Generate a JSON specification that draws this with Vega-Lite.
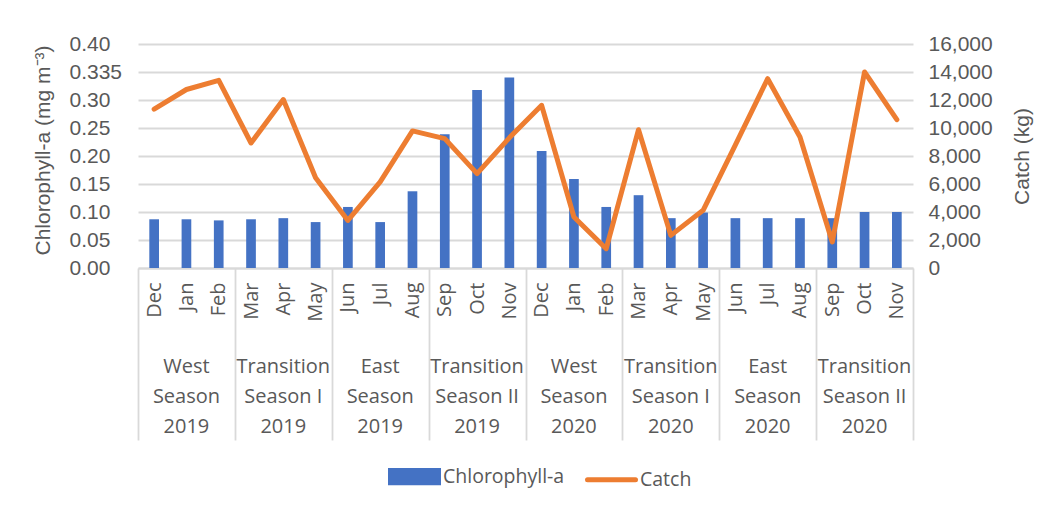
{
  "$schema": "https://vega.github.io/schema/vega-lite/v6.json",
  "width": 775,
  "height": 224,
  "autosize": {"type": "none"},
  "padding": {"left": 138, "top": 44, "right": 141, "bottom": 241},
  "background": "white",
  "config": {
    "view": {"stroke": null},
    "axis": {"labelColor": "#595959", "titleColor": "#595959", "titleFontWeight": "normal"}
  },
  "data": {
    "values": [
      {"key": "West Season 2019|Dec", "chl": 0.087, "catch": 11350},
      {"key": "West Season 2019|Jan", "chl": 0.087, "catch": 12750},
      {"key": "West Season 2019|Feb", "chl": 0.085, "catch": 13400},
      {"key": "Transition Season I 2019|Mar", "chl": 0.087, "catch": 8930},
      {"key": "Transition Season I 2019|Apr", "chl": 0.089, "catch": 12030},
      {"key": "Transition Season I 2019|May", "chl": 0.082, "catch": 6450},
      {"key": "East Season 2019|Jun", "chl": 0.109, "catch": 3400},
      {"key": "East Season 2019|Jul", "chl": 0.082, "catch": 6150},
      {"key": "East Season 2019|Aug", "chl": 0.137, "catch": 9790},
      {"key": "Transition Season II 2019|Sep", "chl": 0.239, "catch": 9240},
      {"key": "Transition Season II 2019|Oct", "chl": 0.318, "catch": 6740},
      {"key": "Transition Season II 2019|Nov", "chl": 0.340, "catch": 9300},
      {"key": "West Season 2020|Dec", "chl": 0.209, "catch": 11620},
      {"key": "West Season 2020|Jan", "chl": 0.159, "catch": 3640},
      {"key": "West Season 2020|Feb", "chl": 0.109, "catch": 1380},
      {"key": "Transition Season I 2020|Mar", "chl": 0.130, "catch": 9880},
      {"key": "Transition Season I 2020|Apr", "chl": 0.089, "catch": 2330},
      {"key": "Transition Season I 2020|May", "chl": 0.099, "catch": 4120},
      {"key": "East Season 2020|Jun", "chl": 0.089, "catch": 8800},
      {"key": "East Season 2020|Jul", "chl": 0.089, "catch": 13520},
      {"key": "East Season 2020|Aug", "chl": 0.089, "catch": 9360},
      {"key": "Transition Season II 2020|Sep", "chl": 0.089, "catch": 1860},
      {"key": "Transition Season II 2020|Oct", "chl": 0.100, "catch": 14000},
      {"key": "Transition Season II 2020|Nov", "chl": 0.100, "catch": 10600}
    ]
  },
  "layer": [
    {
      "mark": {"type": "bar", "width": {"band": 0.3}},
      "encoding": {
        "x": {
          "field": "key",
          "type": "ordinal",
          "sort": null,
          "scale": {"paddingInner": 0, "paddingOuter": 0},
          "axis": {
            "orient": "bottom",
            "title": null,
            "labelExpr": "split(datum.value, '|')[1]",
            "labelAngle": 270,
            "labelAlign": "right",
            "labelBaseline": "middle",
            "labelFont": "Open Sans",
            "labelFontSize": 20,
            "labelPadding": -158,
            "labelOverlap": false,
            "labelBound": false,
            "tickBand": "extent",
            "ticks": true,
            "tickSize": 172,
            "tickColor": "#d9d9d9",
            "tickWidth": 1.8,
            "tickOpacity": {
              "condition": {"test": "datum.extra || indexof(['Feb', 'May', 'Aug', 'Nov'], split(datum.value, '|')[1]) >= 0", "value": 1},
              "value": 0
            },
            "domain": true,
            "domainColor": "#d9d9d9",
            "domainWidth": 1.8,
            "grid": false
          }
        },
        "y": {
          "field": "chl",
          "type": "quantitative",
          "scale": {"domain": [0, 0.4], "nice": false, "zero": true},
          "axis": {
            "orient": "left",
            "title": "Chlorophyll-a (mg m⁻³)",
            "values": [0, 0.05, 0.1, 0.15, 0.2, 0.25, 0.3, 0.35, 0.4],
            "labelExpr": "datum.value === 0.35 ? '0.335' : format(datum.value, '.2f')",
            "labelAlign": "left",
            "labelBaseline": "middle",
            "labelPadding": 69,
            "labelFont": "Liberation Sans",
            "labelFontSize": 21,
            "ticks": false,
            "tickSize": 0,
            "domain": false,
            "grid": true,
            "gridColor": "#d9d9d9",
            "gridWidth": 1.8,
            "titleFont": "Liberation Sans",
            "titleFontSize": 21,
            "titleAngle": 270,
            "titleAlign": "center",
            "titleBaseline": "middle",
            "titleX": -95,
            "titleY": 106
          }
        },
        "color": {
          "datum": "Chlorophyll-a",
          "scale": {"domain": ["Chlorophyll-a", "Catch"], "range": ["#4472C4", "#ED7D31"]},
          "legend": {
            "orient": "none",
            "legendX": 250,
            "legendY": 406,
            "direction": "horizontal",
            "title": null,
            "labelFont": "Open Sans",
            "labelFontSize": 19.5,
            "labelColor": "#595959",
            "labelOffset": 2,
            "columnPadding": 12,
            "symbolSize": 2304,
            "encode": {
              "symbols": {
                "update": {
                  "shape": {"signal": "datum.value === 'Catch' ? 'stroke' : 'M-1,-0.26H1V0.26H-1Z'"},
                  "fill": {"signal": "datum.value === 'Catch' ? 'transparent' : '#4472C4'"},
                  "stroke": {"signal": "datum.value === 'Catch' ? '#ED7D31' : 'transparent'"},
                  "strokeWidth": {"value": 5},
                  "strokeCap": {"value": "round"},
                  "opacity": {"value": 1}
                }
              }
            }
          }
        }
      }
    },
    {
      "mark": {"type": "line", "strokeWidth": 5, "strokeJoin": "round", "strokeCap": "round"},
      "encoding": {
        "x": {
          "field": "key",
          "type": "ordinal",
          "sort": null,
          "axis": {
            "orient": "bottom",
            "title": null,
            "values": [
              "West Season 2019|Jan",
              "Transition Season I 2019|Apr",
              "East Season 2019|Jul",
              "Transition Season II 2019|Oct",
              "West Season 2020|Jan",
              "Transition Season I 2020|Apr",
              "East Season 2020|Jul",
              "Transition Season II 2020|Oct"
            ],
            "labelExpr": "[split(split(datum.value, '|')[0], ' ')[0], join(slice(split(split(datum.value, '|')[0], ' '), 1, -1), ' '), peek(split(split(datum.value, '|')[0], ' '))]",
            "labelAngle": 0,
            "labelAlign": "center",
            "labelBaseline": "alphabetic",
            "labelLineHeight": 30,
            "labelFont": "Open Sans",
            "labelFontSize": 20,
            "labelPadding": 104,
            "labelOverlap": false,
            "labelBound": false,
            "ticks": false,
            "tickSize": 0,
            "domain": false,
            "grid": false
          }
        },
        "y": {
          "field": "catch",
          "type": "quantitative",
          "scale": {"domain": [0, 16000], "nice": false},
          "axis": {
            "orient": "right",
            "title": "Catch (kg)",
            "values": [0, 2000, 4000, 6000, 8000, 10000, 12000, 14000, 16000],
            "labelExpr": "format(datum.value, ',.0f')",
            "labelAlign": "left",
            "labelBaseline": "middle",
            "labelPadding": 15,
            "labelFont": "Liberation Sans",
            "labelFontSize": 21,
            "ticks": false,
            "tickSize": 0,
            "domain": false,
            "grid": false,
            "titleFont": "Liberation Sans",
            "titleFontSize": 21,
            "titleAngle": 270,
            "titleAlign": "center",
            "titleBaseline": "middle",
            "titleX": 109
          }
        },
        "color": {"datum": "Catch"}
      }
    }
  ],
  "resolve": {
    "scale": {"y": "independent"},
    "axis": {"x": "independent", "y": "independent"}
  }
}
